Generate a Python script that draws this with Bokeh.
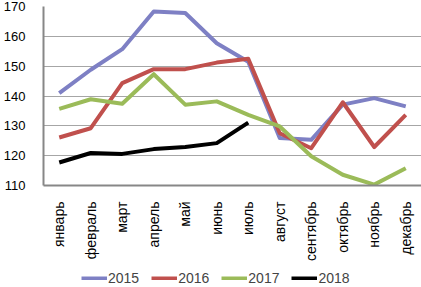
import math
from bokeh.plotting import figure
from bokeh.layouts import column
from bokeh.models import Range1d, Legend, LegendItem, FixedTicker
from bokeh.embed import file_html
from bokeh.resources import INLINE

months = ["январь", "февраль", "март", "апрель", "май", "июнь", "июль",
          "август", "сентябрь", "октябрь", "ноябрь", "декабрь"]
y2015 = [141.0, 148.8, 155.7, 168.3, 167.8, 157.7, 151.5, 125.9, 125.3, 137.1, 139.3, 136.5]
y2016 = [126.1, 129.2, 144.3, 149.0, 149.0, 151.2, 152.5, 127.5, 122.5, 137.9, 122.9, 133.7]
y2017 = [135.7, 138.9, 137.4, 147.3, 137.1, 138.2, 133.7, 129.8, 119.8, 113.6, 110.3, 115.8]
y2018 = [117.7, 120.9, 120.6, 122.2, 122.9, 124.2, 131.1]
y_ticks = [110, 120, 130, 140, 150, 160, 170]

series = [("2015", y2015, "#7e80c4"), ("2016", y2016, "#c0504d"),
          ("2017", y2017, "#9bbb59"), ("2018", y2018, "#000000")]

p = figure(width=421, height=265, x_range=months, y_range=Range1d(110, 170),
           output_backend="svg", toolbar_location=None,
           min_border_left=35, min_border_right=0, min_border_top=6, min_border_bottom=80)
p.outline_line_color = None
p.background_fill_color = "white"
p.border_fill_color = "white"

for name, ys, col in series:
    p.line(months[:len(ys)], ys, line_color=col, line_width=4, line_join="round")

font = "Liberation Sans"
p.yaxis.ticker = FixedTicker(ticks=y_ticks)
p.yaxis.major_tick_line_color = None
p.yaxis.minor_tick_line_color = None
p.yaxis.axis_line_color = "#878787"
p.yaxis.axis_line_width = 2
p.yaxis.major_label_text_font = font
p.yaxis.major_label_text_font_size = "13px"
p.yaxis.major_label_text_color = "#000000"
p.yaxis.major_label_standoff = 12

p.xaxis.major_tick_line_color = None
p.xaxis.axis_line_color = "#878787"
p.xaxis.axis_line_width = 2
p.xaxis.major_label_orientation = math.pi / 2
p.xaxis.major_label_text_font = font
p.xaxis.major_label_text_font_size = "14px"
p.xaxis.major_label_text_color = "#000000"
p.xaxis.major_label_standoff = 10

p.xgrid.grid_line_color = None
p.ygrid.grid_line_color = "#a6a6a6"
p.ygrid.grid_line_width = 1

# legend strip
lg = figure(width=421, height=22, x_range=Range1d(0, 1), y_range=Range1d(0, 1),
            output_backend="svg", toolbar_location=None,
            min_border_left=0, min_border_right=0, min_border_top=0, min_border_bottom=0)
lg.axis.visible = False
lg.grid.visible = False
lg.outline_line_color = None
items = []
for name, ys, col in series:
    r = lg.line([-2, -1], [-2, -1], line_color=col, line_width=4)
    items.append(LegendItem(label=name, renderers=[r]))
legend = Legend(items=items, orientation="horizontal", location=(38, 1),
                glyph_width=26, glyph_height=4, label_text_font=font,
                label_text_font_size="14px", label_standoff=1, spacing=12,
                border_line_color=None, background_fill_alpha=0,
                padding=0, margin=0, label_height=14)
lg.add_layout(legend, "center")

layout = column(p, lg, spacing=0)
open("out.html", "w").write(file_html(layout, INLINE))
